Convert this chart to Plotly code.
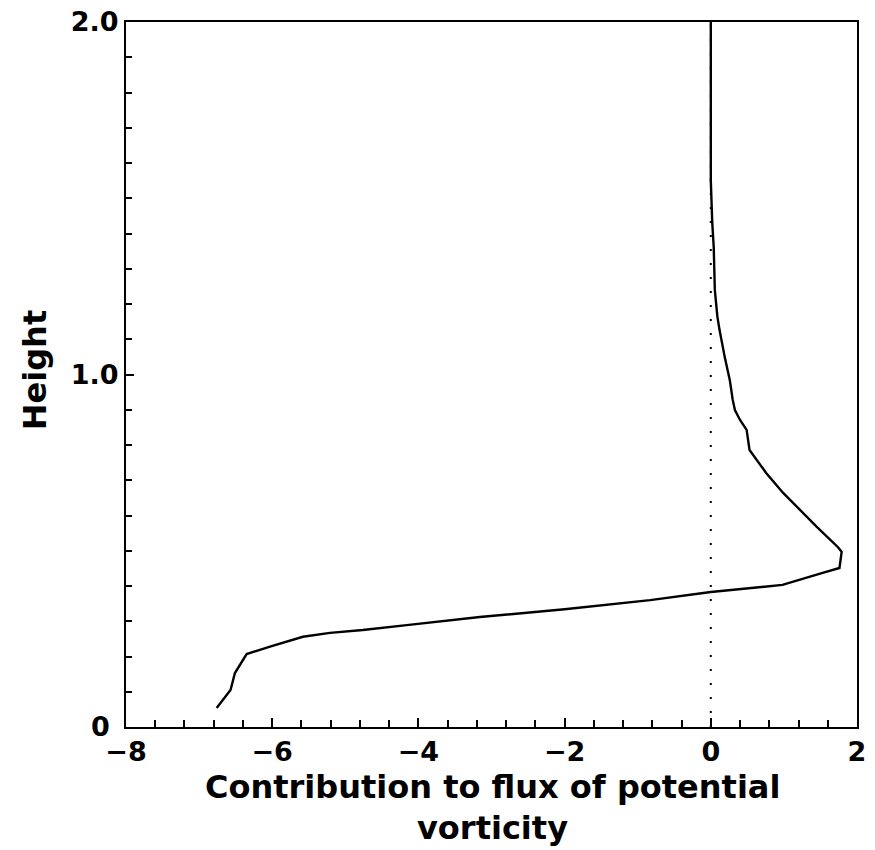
import plotly.graph_objects as go

# Contribution to flux of potential vorticity (x) vs height (y)
flux = [-6.76, -6.57, -6.51, -6.35, -6.03, -5.58, -5.21, -4.76, -4.16, -3.16,
        -2.0, -1.5, -0.83, 0.0, 0.98, 1.53, 1.76, 1.79, 1.74, 1.45, 1.12, 0.99,
        0.76, 0.53, 0.49, 0.40, 0.33, 0.30, 0.26, 0.19, 0.12, 0.09, 0.055, 0.04,
        0.02, 0.0, 0.0]
height = [0.054, 0.105, 0.153, 0.207, 0.228, 0.256, 0.267, 0.275, 0.289, 0.312,
          0.334, 0.345, 0.360, 0.383, 0.403, 0.437, 0.451, 0.497, 0.51, 0.568, 0.635, 0.664,
          0.72, 0.786, 0.843, 0.871, 0.899, 0.928, 0.984, 1.05, 1.126, 1.164, 1.24, 1.362,
          1.43, 1.55, 2.0]

x_ticks = [-8, -6, -4, -2, 0, 2]
x_ticklabels = ["\u22128", "\u22126", "\u22124", "\u22122", "0", "2"]
y_ticks = [0, 1.0, 2.0]
y_ticklabels = ["0\u2004", "1.0", "2.0"]

x_title_lines = ["Contribution to flux of potential", "vorticity"]
y_title = "Height"

font_family = "DejaVu Sans"

fig = go.Figure()
fig.add_trace(go.Scatter(x=[0, 0], y=[0, 2.0], mode="lines",
                         line=dict(color="black", width=2, dash="2px,12px"),
                         showlegend=False, hoverinfo="skip"))
fig.add_trace(go.Scatter(x=flux, y=height, mode="lines",
                         line=dict(color="black", width=2.4),
                         showlegend=False))

tickfont = dict(size=27, family=font_family, weight="bold", color="black")

fig.update_layout(
    width=875, height=850,
    margin=dict(l=126, r=18, t=22, b=123, autoexpand=False),
    plot_bgcolor="white", paper_bgcolor="white",
    font=dict(family=font_family, color="black"),
    xaxis=dict(
        range=[-8, 2], tickmode="array", tickvals=x_ticks, ticktext=x_ticklabels,
        ticks="inside", ticklen=9, tickwidth=2, tickcolor="black",
        minor=dict(dtick=0.4, ticks="inside", ticklen=7, tickwidth=1.5, tickcolor="black"),
        showline=True, linecolor="black", linewidth=2, mirror=True,
        showgrid=False, zeroline=False, automargin=False,
        tickfont=tickfont, ticklabeloverflow="allow",
    ),
    yaxis=dict(
        range=[0, 2.0], tickmode="array", tickvals=y_ticks, ticktext=y_ticklabels,
        ticks="inside", ticklen=8, tickwidth=2, tickcolor="black",
        minor=dict(dtick=0.1, ticks="inside", ticklen=6, tickwidth=1.5, tickcolor="black"),
        showline=True, linecolor="black", linewidth=2, mirror=True,
        showgrid=False, zeroline=False, automargin=False,
        tickfont=tickfont, ticklabeloverflow="allow",
    ),
    annotations=[
        dict(text=x_title_lines[0], xref="paper", yref="paper", x=0.502, y=-0.0851,
             xanchor="center", yanchor="middle", showarrow=False,
             font=dict(size=32, family=font_family, weight="bold", color="black")),
        dict(text=x_title_lines[1], xref="paper", yref="paper", x=0.502, y=-0.1433,
             xanchor="center", yanchor="middle", showarrow=False,
             font=dict(size=32, family=font_family, weight="bold", color="black")),
        dict(text=y_title, xref="paper", yref="paper", x=-0.1245, y=0.506,
             xanchor="center", yanchor="middle", showarrow=False, textangle=-90,
             font=dict(size=32, family=font_family, weight="bold", color="black")),
    ],
)

fig.write_html("out.html", config={"displayModeBar": False},
               post_script="document.body.style.margin='0px';")
